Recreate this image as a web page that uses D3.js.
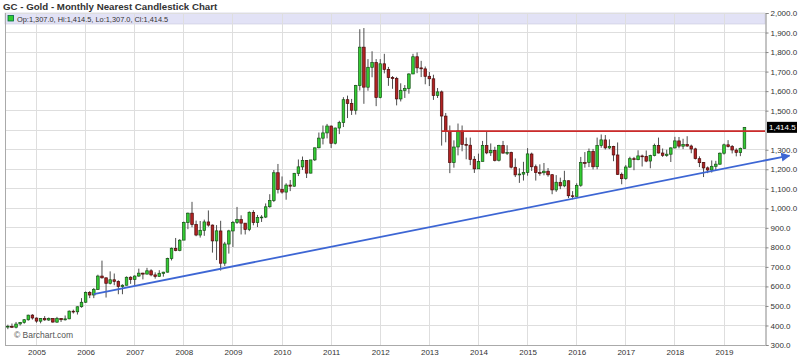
<!DOCTYPE html>
<html><head><meta charset="utf-8">
<script src="https://cdn.jsdelivr.net/npm/d3@7"></script>
<style>
html,body{margin:0;padding:0;background:#fff;}
svg{display:block;font-family:"Liberation Sans",Arial,sans-serif;}
</style></head>
<body><svg id="c" width="800" height="360"></svg>
<script>
// ---- data (monthly GC nearest futures) ----
const startMonth = "2004-06";
const opens = [
393,395,391,408,416,429,453,
438,422,435,428,436,417,436,429,434,473,470,496,
519,569,556,584,653,644,616,634,626,599,606,647,
636,653,668,663,680,659,651,667,673,743,795,784,
837,927,975,917,863,887,930,914,833,884,719,817,
884,927,942,924,891,979,927,953,955,1008,1040,1182,
1096,1083,1119,1113,1179,1212,1245,1180,1248,1310,1359,1386,
1421,1333,1411,1439,1556,1537,1502,1628,1825,1620,1722,1746,
1567,1740,1711,1669,1664,1560,1604,1614,1688,1776,1719,1714,
1676,1663,1578,1596,1472,1393,1234,1314,1396,1327,1323,1251,
1202,1240,1321,1284,1296,1246,1322,1282,1286,1210,1171,1175,
1184,1278,1213,1183,1182,1190,1172,1094,1133,1115,1141,1064,
1061,1118,1234,1234,1291,1213,1321,1350,1309,1317,1273,1174,
1152,1211,1254,1249,1268,1266,1242,1270,1321,1283,1271,1277,
1309,1345,1318,1327,1319,1304,1254,1234,1207,1196,1215,1226,
1282,1325,1316,1298,1285,1307];
const highs = [
404,410,418,418,433,455,458,
441,438,448,441,437,444,437,451,477,481,498,540,
574,576,592,660,732,645,677,666,631,611,651,652,
657,691,670,695,688,672,683,675,747,799,848,842,
932,978,1033,937,935,942,989,917,914,936,828,890,
935,1007,964,924,984,990,966,965,1025,1072,1196,1227,
1163,1128,1145,1181,1250,1265,1246,1247,1311,1388,1424,1432,
1424,1413,1448,1569,1577,1560,1632,1917,1923,1764,1804,1764,
1764,1791,1724,1677,1673,1640,1631,1692,1791,1798,1755,1726,
1698,1684,1616,1603,1488,1424,1348,1434,1424,1362,1362,1267,
1280,1345,1392,1332,1315,1325,1345,1323,1290,1255,1205,1238,
1308,1285,1224,1225,1232,1206,1175,1170,1157,1192,1143,1088,
1128,1263,1288,1306,1304,1362,1378,1375,1353,1320,1337,1183,
1221,1264,1263,1297,1275,1296,1274,1331,1362,1306,1300,1312,
1366,1365,1356,1369,1326,1310,1266,1237,1214,1245,1243,1286,
1331,1349,1324,1307,1311,1414.5];
const lows = [
381,387,385,400,409,425,430,
414,411,424,423,414,414,418,425,432,461,456,491,
516,540,540,582,640,543,610,606,560,560,605,613,
606,649,636,662,652,640,650,650,671,733,780,780,
839,893,903,857,850,859,906,773,735,681,705,768,
802,920,866,866,883,913,904,930,950,1003,1032,1076,
1075,1044,1088,1111,1165,1196,1155,1179,1242,1307,1327,1358,
1309,1327,1380,1416,1462,1478,1480,1603,1535,1602,1671,1523,
1563,1691,1627,1612,1527,1547,1565,1587,1687,1692,1672,1635,
1626,1555,1565,1321,1338,1180,1208,1271,1292,1251,1221,1181,
1203,1241,1277,1268,1240,1240,1281,1273,1204,1160,1130,1142,
1167,1191,1142,1167,1169,1162,1072,1084,1098,1108,1052,1046,
1072,1110,1208,1211,1199,1200,1310,1301,1303,1241,1171,1123,
1146,1207,1195,1246,1214,1236,1205,1266,1281,1263,1264,1237,
1307,1307,1303,1315,1282,1250,1211,1160,1180,1183,1196,1222,
1275,1311,1281,1266,1267,1307];
const closes = [
395.8,391.7,407.3,415.7,429.4,452.9,438.4,
422.5,435.5,428.7,436.0,417.6,436.6,429.5,433.8,473.3,470.0,495.7,518.9,
569.6,556.0,583.7,653.0,644.0,616.0,634.0,625.8,599.3,606.0,646.8,635.7,
652.9,667.9,663.0,680.1,659.1,651.3,667.3,672.9,742.8,795.3,783.5,836.5,
927.3,975.0,917.0,863.1,887.3,930.3,914.0,833.0,884.5,718.8,817.3,884.3,
927.3,942.0,924.0,891.2,979.5,927.1,953.6,955.1,1007.7,1040.4,1182.0,1096.2,
1083.0,1118.9,1113.3,1179.2,1212.2,1245.5,1180.1,1247.8,1309.6,1359.4,1386.1,1421.4,
1332.8,1411.1,1439.0,1556.0,1536.6,1502.3,1628.3,1825.0,1620.4,1722.0,1746.4,1566.8,
1740.0,1711.3,1669.3,1664.0,1560.2,1604.2,1614.1,1687.6,1776.1,1719.1,1714.3,1675.8,
1663.3,1578.1,1596.0,1472.5,1393.1,1233.9,1313.8,1396.1,1327.0,1322.7,1250.6,1201.9,
1240.1,1321.3,1283.8,1295.9,1245.6,1322.0,1282.5,1285.7,1210.5,1171.1,1175.5,1184.1,
1278.5,1212.6,1183.1,1182.4,1190.0,1171.6,1094.2,1133.4,1114.8,1141.3,1064.2,1060.3,
1117.6,1233.9,1233.6,1290.9,1212.6,1321.4,1350.4,1309.3,1317.1,1273.1,1173.9,1151.7,
1211.4,1253.9,1249.2,1268.3,1266.2,1241.6,1269.9,1321.4,1283.1,1271.3,1277.0,1309.3,
1345.1,1318.3,1327.3,1318.8,1303.7,1254.5,1233.6,1206.7,1196.2,1215.0,1226.0,1282.0,
1325.2,1316.1,1298.5,1285.7,1307.0,1414.5];
const yTicks = [300,400,500,600,700,800,900,1000,1100,1200,1300,1400,1500,1600,1700,1800,1900,2000];
const yearLabels = ["2005","2006","2007","2008","2009","2010","2011","2012","2013","2014","2015","2016","2017","2018","2019"];
const resistanceStart = "2013-04";
const resistanceValue = 1395;
const trendMonths = ["2006-03","2020-05"];
const trendValues = [561,1270];
const titleText = "GC - Gold - Monthly Nearest Candlestick Chart";
const lastBar = {o:1307.0,h:1414.5,l:1307.0,c:1414.5};

// ---- helpers ----
const [sy, sm] = startMonth.split("-").map(Number);
const monthIndex = s => { const [y,m] = s.split("-").map(Number); return (y-sy)*12 + (m-sm); };
const fmt = d3.format(",.1f");

// ---- layout ----
const L = 5, R = 765, T = 13, B = 345;
const svg = d3.select("#c");
const x = d3.scaleLinear().domain([monthIndex("2005-01"), monthIndex("2019-01")]).range([36.5, 724]);
const y = d3.scaleLinear().domain([300, 2000]).range([B, T]);

// title
svg.append("text").attr("x",3).attr("y",10).attr("font-size",9.7).attr("font-weight","bold")
  .attr("fill","#333").text(titleText);

// legend band
svg.append("rect").attr("x",L).attr("y",T).attr("width",R-L).attr("height",11)
  .attr("fill","#e2e2f6").attr("stroke","#c8c8dc").attr("stroke-width",0.6);

// gridlines
const yearIdx = yearLabels.map(yl => monthIndex(yl+"-01"));
svg.append("g").selectAll("line").data(yearIdx).join("line")
  .attr("x1",d=>x(d)).attr("x2",d=>x(d)).attr("y1",T).attr("y2",B)
  .attr("stroke","#dedede").attr("stroke-width",1).attr("shape-rendering","crispEdges");
svg.append("g").selectAll("line").data(yTicks).join("line")
  .attr("x1",L).attr("x2",R).attr("y1",d=>y(d)).attr("y2",d=>y(d))
  .attr("stroke","#dedede").attr("stroke-width",1).attr("shape-rendering","crispEdges");

// legend content
svg.append("rect").attr("x",8).attr("y",15.5).attr("width",5.5).attr("height",5.5)
  .attr("fill","#3c3").attr("stroke","#064").attr("stroke-width",0.8);
svg.append("text").attr("x",17).attr("y",21.5).attr("font-size",7.4).attr("fill","#333")
  .text(`Op:${fmt(lastBar.o)}, Hi:${fmt(lastBar.h)}, Lo:${fmt(lastBar.l)}, Cl:${fmt(lastBar.c)}`);

// frame
svg.append("line").attr("x1",L+0.5).attr("x2",L+0.5).attr("y1",T).attr("y2",B).attr("stroke","#aaa");
svg.append("line").attr("x1",L).attr("x2",R).attr("y1",B+0.5).attr("y2",B+0.5).attr("stroke","#aaa");

// right axis
const yAxis = d3.axisRight(y).tickValues(yTicks.filter(v => Math.abs(y(v)-y(lastBar.c))>8))
  .tickFormat(fmt).tickSize(3).tickPadding(2);
const ga = svg.append("g").attr("transform",`translate(${R+0.5},0)`).call(yAxis);
ga.select(".domain").attr("stroke","#888");
ga.selectAll(".tick line").attr("stroke","#888");
ga.selectAll(".tick text").attr("font-size",8).attr("fill","#333").attr("font-family","Liberation Sans, Arial, sans-serif");

// bottom axis labels
const xAxis = d3.axisBottom(x).tickValues(yearIdx).tickFormat((d,i)=>yearLabels[i]).tickSize(0).tickPadding(4);
const gx = svg.append("g").attr("transform",`translate(0,${B})`).call(xAxis);
gx.select(".domain").remove();
gx.selectAll(".tick text").attr("font-size",8).attr("fill","#333").attr("font-family","Liberation Sans, Arial, sans-serif");

// watermark
svg.append("text").attr("x",14).attr("y",338).attr("font-size",8.5).attr("fill","#555").text("\u00a9 Barchart.com");

// candles
const bars = opens.map((o,i)=>({i,o,h:highs[i],l:lows[i],c:closes[i]}));
const cg = svg.append("g");
cg.selectAll("line").data(bars).join("line")
  .attr("x1",d=>x(d.i)).attr("x2",d=>x(d.i)).attr("y1",d=>y(d.h)).attr("y2",d=>y(d.l))
  .attr("stroke","#3a3a3a").attr("stroke-width",0.9);
const bw = 2.6;
cg.selectAll("rect").data(bars).join("rect")
  .attr("x",d=>x(d.i)-bw/2).attr("width",bw)
  .attr("y",d=>y(Math.max(d.o,d.c))).attr("height",d=>Math.max(0.8,Math.abs(y(d.o)-y(d.c))))
  .attr("fill",d=>d.c>=d.o?"#33cc33":"#b22222")
  .attr("stroke",d=>d.c>=d.o?"#145214":"#4a0a0a").attr("stroke-width",0.7);

// resistance line
svg.append("line").attr("x1",x(monthIndex(resistanceStart))).attr("x2",R)
  .attr("y1",y(resistanceValue)).attr("y2",y(resistanceValue))
  .attr("stroke","#cc2b2b").attr("stroke-width",1.6);

// trend line with arrow
const defs = svg.append("defs");
defs.append("marker").attr("id","arr").attr("viewBox","0 0 10 10").attr("refX",9).attr("refY",5)
  .attr("markerWidth",5).attr("markerHeight",5).attr("orient","auto")
  .append("path").attr("d","M0,0L10,5L0,10z").attr("fill","#3d66d4");
const tp = trendMonths.map((m,k)=>[x(monthIndex(m)), y(trendValues[k])]);
svg.append("line").attr("x1",tp[0][0]).attr("y1",tp[0][1]).attr("x2",tp[1][0]).attr("y2",tp[1][1])
  .attr("stroke","#3d66d4").attr("stroke-width",1.8).attr("marker-end","url(#arr)");

// last price label
const ly = y(lastBar.c);
svg.append("rect").attr("x",767).attr("y",ly-5.5).attr("width",30).attr("height",11).attr("fill","#000");
svg.append("text").attr("x",769).attr("y",ly+3).attr("font-size",8).attr("fill","#fff").text(fmt(lastBar.c));
</script></body></html>
